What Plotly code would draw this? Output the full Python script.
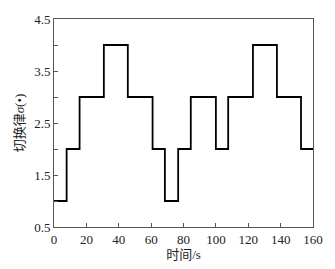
import plotly.graph_objects as go

switch_times = [0, 7.8, 15.8, 30.8, 45.6, 60.9, 68.5, 76.7, 84.5, 100.0, 107.6, 122.9, 137.7, 152.6, 160]
modes = [1, 2, 3, 4, 3, 2, 1, 2, 3, 2, 3, 4, 3, 2, 2]

y_tickvals = [0.5, 1, 1.5, 2, 2.5, 3, 3.5, 4, 4.5]
y_ticktext = ["0.5", "", "1.5", "", "2.5", "", "3.5", "", "4.5"]
x_tickvals = [0, 20, 40, 60, 80, 100, 120, 140, 160]

fig = go.Figure()
fig.add_trace(go.Scatter(x=switch_times, y=modes, mode="lines",
                         line=dict(shape="hv", color="black", width=1.8),
                         showlegend=False))

font_fam = "Liberation Serif, Noto Sans CJK SC"
fig.update_layout(
    width=335, height=269,
    margin=dict(l=54, r=21, t=15, b=42),
    paper_bgcolor="white", plot_bgcolor="white",
    font=dict(family=font_fam, size=13, color="#222"),
)
fig.update_xaxes(range=[0, 160], tickvals=x_tickvals, ticks="inside", ticklen=4,
                 tickcolor="#555", showline=True, linecolor="#555", linewidth=1,
                 mirror=True, showgrid=False, zeroline=False,
                 title=dict(text="时间/s", standoff=0, font=dict(size=13)))
fig.update_yaxes(range=[0.5, 4.5], tickvals=y_tickvals, ticktext=y_ticktext,
                 ticks="inside", ticklen=4, tickcolor="#555", showline=True,
                 linecolor="#555", linewidth=1, mirror=True, showgrid=False,
                 zeroline=False,
                 title=dict(text="切换律<i>σ</i>(•)", standoff=6, font=dict(size=13)))
fig.write_html("out.html", config={"displayModeBar": False},
               post_script="document.body.style.margin='0';")
